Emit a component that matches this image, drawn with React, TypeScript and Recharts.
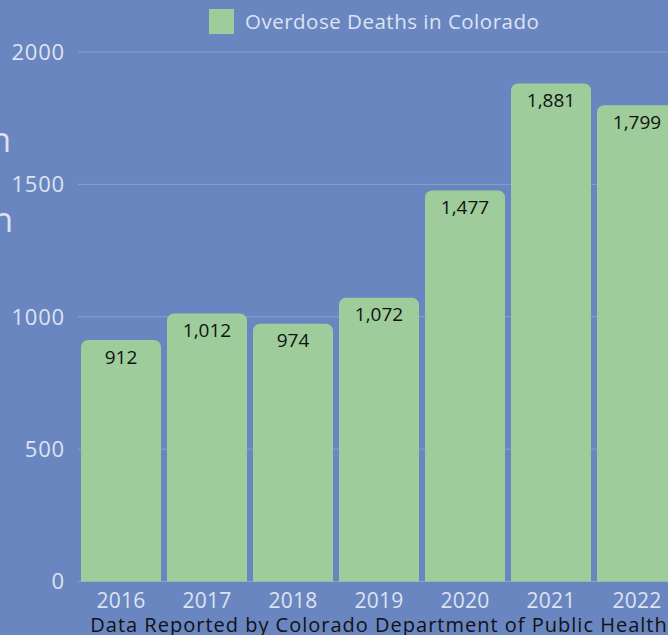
import React from 'react';
import { BarChart, Bar, XAxis, YAxis, CartesianGrid, LabelList, Legend } from 'recharts';

const years = ['2016', '2017', '2018', '2019', '2020', '2021', '2022'];
const deaths = [912, 1012, 974, 1072, 1477, 1881, 1799];
const yTicks = [0, 500, 1000, 1500, 2000];
const seriesName = 'Overdose Deaths in Colorado';
const footer = 'Data Reported by Colorado Department of Public Health';

const data = years.map((y, i) => ({ year: y, deaths: deaths[i] }));

const BG = '#6a86c1';
const BAR = '#9ecd9b';
const LIGHT = '#dde3ef';
const FONT = '"Open Sans", "Noto Sans", sans-serif';

const LegendContent = () => (
  <div style={{ height: 52, position: 'relative' }}>
    <div style={{ position: 'absolute', left: 209, top: 9, display: 'flex', alignItems: 'center' }}>
      <div style={{ width: 25, height: 25, background: BAR, marginRight: 11 }} />
      <span style={{ color: LIGHT, fontSize: 20.5, fontFamily: FONT, lineHeight: '25px', letterSpacing: 0.5 }}>{seriesName}</span>
    </div>
  </div>
);

export default function App() {
  return (
    <div
      style={{
        position: 'fixed',
        left: 0,
        top: 0,
        width: 668,
        height: 635,
        overflow: 'hidden',
        background: BG,
        fontFamily: FONT,
      }}
    >
      <svg width={668} height={635} style={{ position: 'absolute', left: 0, top: 0, pointerEvents: 'none' }}>
        <text x={11} y={152} textAnchor="end" fill={LIGHT} fontSize={34} fontFamily={FONT}>n</text>
        <text x={13} y={232} textAnchor="end" fill={LIGHT} fontSize={34} fontFamily={FONT}>n</text>
      </svg>
      <div style={{ position: 'absolute', left: 0, top: 0 }}>
        <BarChart width={690} height={635} data={data} margin={{ top: 0, right: 10, bottom: 0, left: 0 }}>
          <Legend verticalAlign="top" align="left" content={<LegendContent />} wrapperStyle={{ left: 0, top: 0, width: 690 }} />
          <CartesianGrid vertical={false} stroke="rgba(255,255,255,0.22)" />
          <XAxis
            dataKey="year"
            axisLine={false}
            tickLine={false}
            tickSize={0}
            tickMargin={11.5}
            height={53.5}
            tick={{ fill: LIGHT, fontSize: 21, letterSpacing: 0.3 }}
            label={{ value: footer, position: 'insideBottom', offset: 3, fill: '#111', fontSize: 20, letterSpacing: 1 }}
          />
          <YAxis
            domain={[0, 2000]}
            ticks={yTicks}
            axisLine={false}
            tickLine={false}
            tickSize={0}
            tickMargin={13}
            width={78}
            tick={{ fill: LIGHT, fontSize: 22, letterSpacing: 0.8 }}
          />
          <Bar dataKey="deaths" name={seriesName} fill={BAR} barSize={80} radius={[7, 7, 0, 0]} isAnimationActive={false}>
            <LabelList
              dataKey="deaths"
              position="insideTop"
              offset={10}
              fill="#111"
              fontSize={19}
              formatter={(v: number) => v.toLocaleString('en-US')}
            />
          </Bar>
        </BarChart>
      </div>
    </div>
  );
}
